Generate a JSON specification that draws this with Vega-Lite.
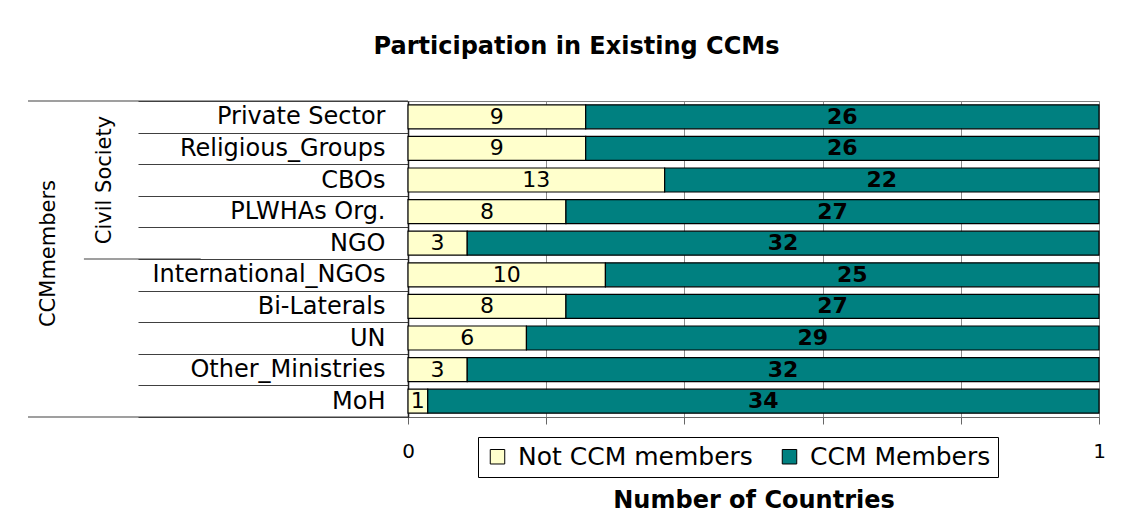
{
  "$schema": "https://vega.github.io/schema/vega-lite/v6.json",
  "width": 691,
  "height": 316,
  "autosize": {"type": "none"},
  "padding": {"left": 408, "top": 101, "right": 29, "bottom": 101},
  "background": "white",
  "config": {"view": {"stroke": "#808080", "strokeWidth": 1}, "font": "DejaVu Sans"},
  "title": {"text": "Participation in Existing CCMs", "font": "DejaVu Sans", "fontSize": 24, "fontWeight": "bold", "color": "black", "anchor": "middle", "dx": -177, "offset": 11, "baseline": "alphabetic"},
  "data": {"values": [
    {"category": "Private Sector", "group": "Not CCM members", "value": 9},
    {"category": "Private Sector", "group": "CCM Members", "value": 26},
    {"category": "Religious_Groups", "group": "Not CCM members", "value": 9},
    {"category": "Religious_Groups", "group": "CCM Members", "value": 26},
    {"category": "CBOs", "group": "Not CCM members", "value": 13},
    {"category": "CBOs", "group": "CCM Members", "value": 22},
    {"category": "PLWHAs Org.", "group": "Not CCM members", "value": 8},
    {"category": "PLWHAs Org.", "group": "CCM Members", "value": 27},
    {"category": "NGO", "group": "Not CCM members", "value": 3},
    {"category": "NGO", "group": "CCM Members", "value": 32},
    {"category": "International_NGOs", "group": "Not CCM members", "value": 10},
    {"category": "International_NGOs", "group": "CCM Members", "value": 25},
    {"category": "Bi-Laterals", "group": "Not CCM members", "value": 8},
    {"category": "Bi-Laterals", "group": "CCM Members", "value": 27},
    {"category": "UN", "group": "Not CCM members", "value": 6},
    {"category": "UN", "group": "CCM Members", "value": 29},
    {"category": "Other_Ministries", "group": "Not CCM members", "value": 3},
    {"category": "Other_Ministries", "group": "CCM Members", "value": 32},
    {"category": "MoH", "group": "Not CCM members", "value": 1},
    {"category": "MoH", "group": "CCM Members", "value": 34}
  ]},
  "transform": [
    {"stack": "value", "groupby": ["category"], "offset": "normalize", "sort": [{"field": "group", "order": "descending"}], "as": ["x0", "x1"]},
    {"calculate": "(datum.x0 + datum.x1) / 2", "as": "xm"}
  ],
  "encoding": {
    "y": {"field": "category", "type": "nominal",
      "sort": ["Private Sector", "Religious_Groups", "CBOs", "PLWHAs Org.", "NGO", "International_NGOs", "Bi-Laterals", "UN", "Other_Ministries", "MoH"],
      "scale": {"paddingInner": 0, "paddingOuter": 0},
      "axis": {"title": "CCMmembers", "titleFont": "DejaVu Sans", "titleFontSize": 21, "titleFontWeight": "normal", "titleColor": "black", "titleAngle": 270, "titleX": -360, "titleY": 152, "titleBaseline": "middle", "titleAlign": "center",
        "labelFont": "DejaVu Sans", "labelFontSize": 24, "labelColor": "black", "labelPadding": -247, "labelLimit": 400,
        "tickBand": "extent", "tickSize": 270, "tickColor": "#404040", "tickWidth": 1.2, "domainColor": "#202020", "domainWidth": 1.5}}
  },
  "layer": [
    {
      "mark": {"type": "bar", "stroke": "black", "strokeWidth": 1.2, "height": {"band": 0.76}},
      "encoding": {
        "x": {"field": "x0", "type": "quantitative", "scale": {"domain": [0, 1], "nice": false},
          "axis": {"title": "Number of Countries", "values": [0, 0.2, 0.4, 0.6, 0.8, 1],
            "labelExpr": "datum.value == 0 ? '0' : (datum.value == 1 ? '1' : '')",
            "labelFlush": false,
            "grid": true, "gridColor": "#8c8c8c", "gridWidth": 1,
            "tickSize": 7, "tickColor": "#666666", "domainColor": "#666666",
            "labelFont": "DejaVu Sans", "labelFontSize": 20, "labelColor": "black", "labelPadding": 17,
            "titleFont": "DejaVu Sans", "titleFontSize": 24, "titleFontWeight": "bold", "titleColor": "black", "titleY": 90, "titleBaseline": "alphabetic"}},
        "x2": {"field": "x1"},
        "color": {"field": "group", "type": "nominal",
          "scale": {"domain": ["Not CCM members", "CCM Members"], "range": ["#FFFFCC", "#008080"]},
          "legend": {"orient": "none", "legendX": 70, "legendY": 336, "direction": "horizontal", "title": null,
            "strokeColor": "black", "fillColor": "white", "padding": 7,
            "labelFont": "DejaVu Sans", "labelFontSize": 25, "labelColor": "black", "labelLimit": 400,
            "symbolType": "square", "symbolSize": 210, "symbolStrokeColor": "black", "symbolStrokeWidth": 1, "symbolOpacity": 1,
            "columnPadding": 24, "labelOffset": 8}}
      }
    },
    {
      "transform": [{"filter": "datum.group == 'Not CCM members'"}],
      "mark": {"type": "text", "font": "DejaVu Sans", "fontSize": 22, "color": "black", "baseline": "middle", "align": "center"},
      "encoding": {
        "x": {"field": "xm", "type": "quantitative"},
        "text": {"field": "value", "type": "quantitative"}
      }
    },
    {
      "transform": [{"filter": "datum.group == 'CCM Members'"}],
      "mark": {"type": "text", "font": "DejaVu Sans", "fontSize": 22, "fontWeight": "bold", "color": "black", "baseline": "middle", "align": "center"},
      "encoding": {
        "x": {"field": "xm", "type": "quantitative"},
        "text": {"field": "value", "type": "quantitative"}
      }
    },
    {
      "transform": [{"filter": "datum.group == 'CCM Members' && datum.category == 'International_NGOs'"}],
      "mark": {"type": "rule", "color": "#404040", "strokeWidth": 1.2},
      "encoding": {
        "y": {"field": "category", "type": "nominal", "bandPosition": 0, "sort": ["Private Sector", "Religious_Groups", "CBOs", "PLWHAs Org.", "NGO", "International_NGOs", "Bi-Laterals", "UN", "Other_Ministries", "MoH"]},
        "x": {"datum": -0.469, "type": "quantitative"},
        "x2": {"datum": -0.3}
      }
    },
    {
      "transform": [{"filter": "datum.group == 'CCM Members' && datum.category == 'Private Sector'"}],
      "mark": {"type": "rule", "color": "#404040", "strokeWidth": 1.2},
      "encoding": {
        "y": {"field": "category", "type": "nominal", "bandPosition": 0, "sort": ["Private Sector", "Religious_Groups", "CBOs", "PLWHAs Org.", "NGO", "International_NGOs", "Bi-Laterals", "UN", "Other_Ministries", "MoH"]},
        "x": {"datum": -0.55, "type": "quantitative"},
        "x2": {"datum": 0}
      }
    },
    {
      "transform": [{"filter": "datum.group == 'CCM Members' && datum.category == 'MoH'"}],
      "mark": {"type": "rule", "color": "#404040", "strokeWidth": 1.2},
      "encoding": {
        "y": {"field": "category", "type": "nominal", "bandPosition": 1, "sort": ["Private Sector", "Religious_Groups", "CBOs", "PLWHAs Org.", "NGO", "International_NGOs", "Bi-Laterals", "UN", "Other_Ministries", "MoH"]},
        "x": {"datum": -0.55, "type": "quantitative"},
        "x2": {"datum": 0}
      }
    },
    {
      "transform": [{"filter": "datum.group == 'CCM Members' && datum.category == 'CBOs'"}],
      "mark": {"type": "text", "font": "DejaVu Sans", "fontSize": 21, "color": "black", "angle": 270, "baseline": "middle", "align": "center", "text": "Civil Society"},
      "encoding": {
        "x": {"datum": -0.4385, "type": "quantitative"}
      }
    }
  ]
}
